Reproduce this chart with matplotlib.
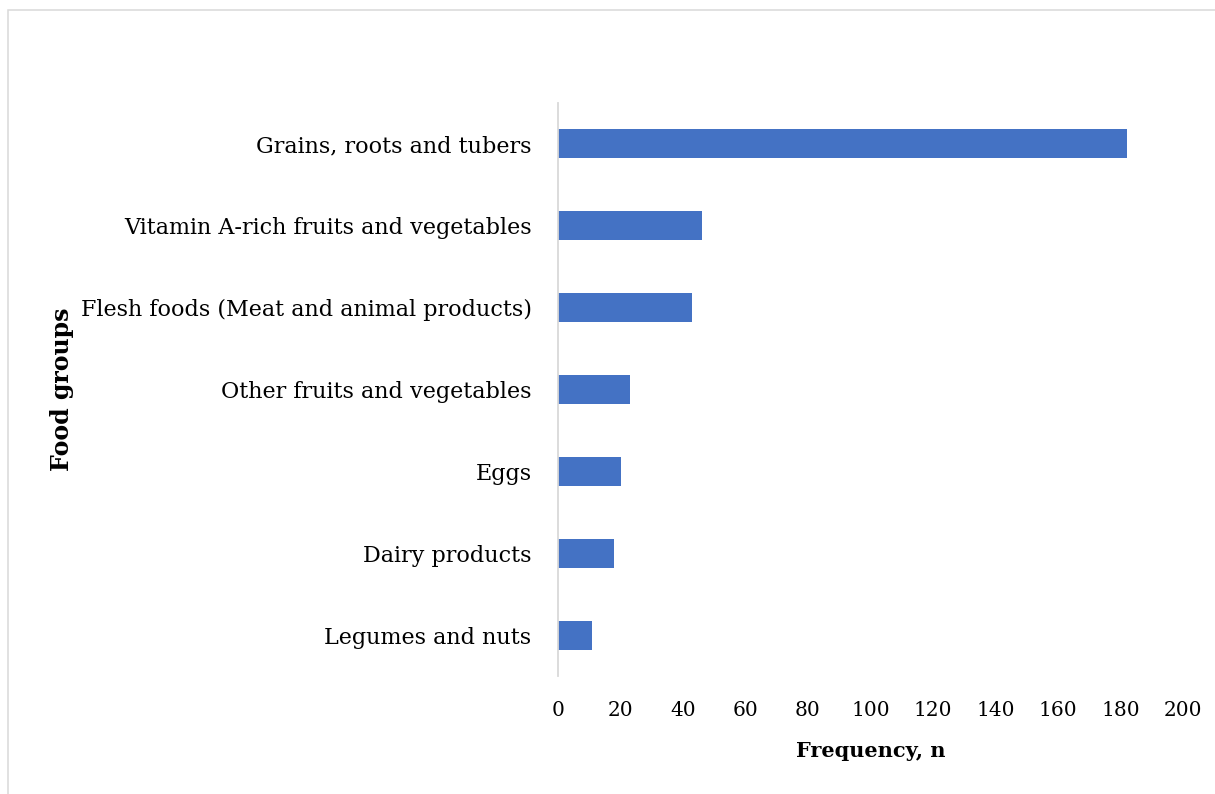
import matplotlib
matplotlib.use("Agg")
from matplotlib import pyplot as plt
from matplotlib.patches import Rectangle

# food groups, top to bottom, and how often each was reported
food_groups = [
    "Grains, roots and tubers",
    "Vitamin A-rich fruits and vegetables",
    "Flesh foods (Meat and animal products)",
    "Other fruits and vegetables",
    "Eggs",
    "Dairy products",
    "Legumes and nuts",
]
frequency = [182, 46, 43, 23, 20, 18, 11]
x_ticks = [0, 20, 40, 60, 80, 100, 120, 140, 160, 180, 200]

BAR_COLOR = "#4472C4"
GRID_GRAY = "#d9d9d9"
FONT = "DejaVu Serif"

W, H = 1215, 794
fig = plt.figure(figsize=(W / 100, H / 100), dpi=100, facecolor="white")

# light frame round the chart area
fig.patches.append(Rectangle((8 / W, -0.05), 1.1, 1 - 10 / H + 0.05,
                             transform=fig.transFigure, fill=False,
                             edgecolor=GRID_GRAY, linewidth=1.1))

ax = fig.add_axes([558 / W, 1 - 676 / H, (1183 - 558) / W, (676 - 103) / H])

pos = list(range(len(food_groups)))
ax.barh(pos, frequency, height=0.355, color=BAR_COLOR)
ax.set_ylim(len(food_groups) - 0.5, -0.5)
ax.set_xlim(0, 200)

ax.set_xticks(x_ticks)
ax.set_xticklabels([str(t) for t in x_ticks], fontsize=14.5, family=FONT)
ax.set_yticks(pos)
ax.set_yticklabels(food_groups, fontsize=16, family=FONT, va="center_baseline")
ax.tick_params(axis="x", length=0, pad=18)
ax.tick_params(axis="y", length=0, pad=19)

for side in ("top", "right", "bottom"):
    ax.spines[side].set_visible(False)
ax.spines["left"].set_color(GRID_GRAY)
ax.spines["left"].set_linewidth(1.3)

ax.set_xlabel("Frequency, n", fontsize=15, fontweight="bold", family=FONT, labelpad=15)
fig.text(62 / W, 1 - 389 / H, "Food groups", rotation=90, ha="center", va="center",
         fontsize=17, fontweight="bold", family=FONT)

fig.savefig("out.png", dpi=100, facecolor="white")
